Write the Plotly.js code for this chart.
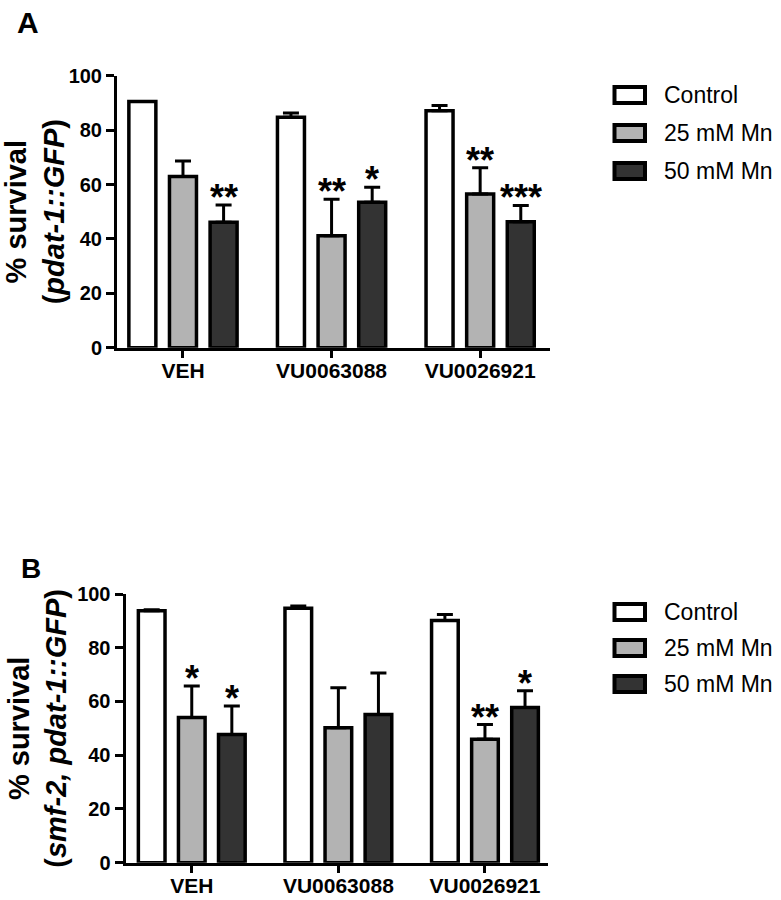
<!DOCTYPE html>
<html><head><meta charset="utf-8">
<script src="https://cdn.plot.ly/plotly-3.0.1.min.js"></script>
<style>html,body{margin:0;padding:0;background:#fff}</style>
</head><body><div id="chart" style="width:781px;height:900px"></div>
<script>
// ---- data ----
const categories = ['VEH', 'VU0063088', 'VU0026921'];
const seriesNames = ['Control', '25 mM Mn', '50 mM Mn'];
const yTickVals = [0, 20, 40, 60, 80, 100];

// Panel A (pdat-1::GFP)
const aControl = [90.5, 84.7, 87.1];
const aControlErr = [null, 1.6, 1.9];
const a25 = [62.9, 41.2, 56.5];
const a25Err = [5.7, 13.4, 9.7];
const a50 = [46.1, 53.5, 46.3];
const a50Err = [6.4, 5.5, 6.0];
const aSig25 = ['', '**', '**'];
const aSig50 = ['**', '*', '***'];

// Panel B (smf-2, pdat-1::GFP)
const bControl = [93.8, 94.7, 90.1];
const bControlErr = [0.3, 0.8, 2.3];
const b25 = [54.0, 50.2, 45.9];
const b25Err = [11.8, 14.9, 5.5];
const b50 = [47.7, 55.2, 57.8];
const b50Err = [10.6, 15.4, 6.2];
const bSig25 = ['*', '', '**'];
const bSig50 = ['*', '', '*'];

const yTitleA = '% survival<br>(<i>pdat-1::GFP</i>)';
const yTitleB = '% survival<br>(<i>smf-2, pdat-1::GFP</i>)';

// ---- styling ----
const W = 781, H = 900;
const FONT = 'Liberation Sans, Arial, Helvetica, sans-serif';
const fills = ['#ffffff', '#b3b3b3', '#333333'];
const px = v => v / W;
const py = v => 1 - v / H;

function barTrace(name, vals, errs, fill, xa, ya) {
  return {
    type: 'bar', name: name, x: categories, y: vals,
    xaxis: xa, yaxis: ya, showlegend: false,
    marker: {color: fill, line: {color: '#000', width: 3.5}},
    error_y: {type: 'data', symmetric: false, array: errs,
      arrayminus: errs.map(() => 0), color: '#000', thickness: 3, width: 8, visible: true},
    hoverinfo: 'skip'
  };
}

const traces = [
  barTrace(seriesNames[0], aControl, aControlErr, fills[0], 'x', 'y'),
  barTrace(seriesNames[1], a25, a25Err, fills[1], 'x', 'y'),
  barTrace(seriesNames[2], a50, a50Err, fills[2], 'x', 'y'),
  barTrace(seriesNames[0], bControl, bControlErr, fills[0], 'x2', 'y2'),
  barTrace(seriesNames[1], b25, b25Err, fills[1], 'x2', 'y2'),
  barTrace(seriesNames[2], b50, b50Err, fills[2], 'x2', 'y2')
];

const slot = 0.82 / 3;
const annotations = [];
function addSig(sigs, vals, errs, offset, xr, yr) {
  sigs.forEach((s, i) => {
    if (!s) return;
    annotations.push({
      xref: xr, yref: yr, x: i + offset, y: vals[i] + (errs[i] || 0),
      text: s, showarrow: false, xanchor: 'center', yanchor: 'bottom', yshift: -15,
      font: {family: FONT, size: 36, color: '#000', weight: 'bold'}
    });
  });
}
addSig(aSig25, a25, a25Err, 0, 'x', 'y');
addSig(aSig50, a50, a50Err, slot, 'x', 'y');
addSig(bSig25, b25, b25Err, 0, 'x2', 'y2');
addSig(bSig50, b50, b50Err, slot, 'x2', 'y2');

// panel letters
annotations.push({xref: 'paper', yref: 'paper', x: px(15), y: py(4), xanchor: 'left', yanchor: 'top',
  text: 'A', showarrow: false, font: {family: FONT, size: 30, color: '#000', weight: 'bold'}});
annotations.push({xref: 'paper', yref: 'paper', x: px(19), y: py(551), xanchor: 'left', yanchor: 'top',
  text: 'B', showarrow: false, font: {family: FONT, size: 28, color: '#000', weight: 'bold'}});

// custom legends
const shapes = [];
function addLegend(rows) {
  rows.forEach((cy, i) => {
    shapes.push({type: 'rect', xref: 'paper', yref: 'paper',
      x0: px(614.5), x1: px(645), y0: py(cy - 8), y1: py(cy + 8),
      line: {color: '#000', width: 4}, fillcolor: fills[i]});
    annotations.push({xref: 'paper', yref: 'paper', x: px(662), y: py(cy),
      xanchor: 'left', yanchor: 'middle', text: seriesNames[i], showarrow: false,
      font: {family: FONT, size: 23, color: '#000'}});
  });
}
addLegend([95, 133, 171]);
addLegend([612, 648, 684]);

function xAxis(domain, range, anchor) {
  return {domain: domain, range: range, anchor: anchor, type: 'category',
    categoryarray: categories, showline: true, linecolor: '#000', linewidth: 3,
    ticks: 'outside', ticklen: 7, tickwidth: 3, tickcolor: '#000',
    ticklabelstandoff: -5,
    showgrid: false, zeroline: false, fixedrange: true,
    tickfont: {family: FONT, size: 21, color: '#000', weight: 'bold'}};
}
function yAxis(domain, anchor, title) {
  return {domain: domain, range: [0, 100], anchor: anchor, tickvals: yTickVals,
    showline: true, linecolor: '#000', linewidth: 3,
    ticks: 'outside', ticklen: 8, tickwidth: 3, tickcolor: '#000',
    showgrid: false, zeroline: false, fixedrange: true,
    tickfont: {family: FONT, size: 20, color: '#000', weight: 'bold'},
    title: {text: title, standoff: 2, font: {family: FONT, size: 29, color: '#000', weight: 'bold'}}};
}

const layout = {
  width: W, height: H, margin: {l: 0, r: 0, t: 0, b: 0},
  paper_bgcolor: '#fff', plot_bgcolor: 'rgba(0,0,0,0)',
  font: {family: FONT, color: '#000'},
  barmode: 'group', bargap: 0.18, bargroupgap: 0.335,
  showlegend: false,
  xaxis: xAxis([px(117), px(550)], [-0.444, 2.47], 'y'),
  yaxis: yAxis([py(347.7), py(75.7)], 'x', yTitleA),
  xaxis2: xAxis([px(125.5), px(548)], [-0.452, 2.43], 'y2'),
  yaxis2: yAxis([py(862.7), py(594)], 'x2', yTitleB),
  annotations: annotations, shapes: shapes
};

Plotly.newPlot('chart', traces, layout, {staticPlot: true, displayModeBar: false});
</script></body></html>
